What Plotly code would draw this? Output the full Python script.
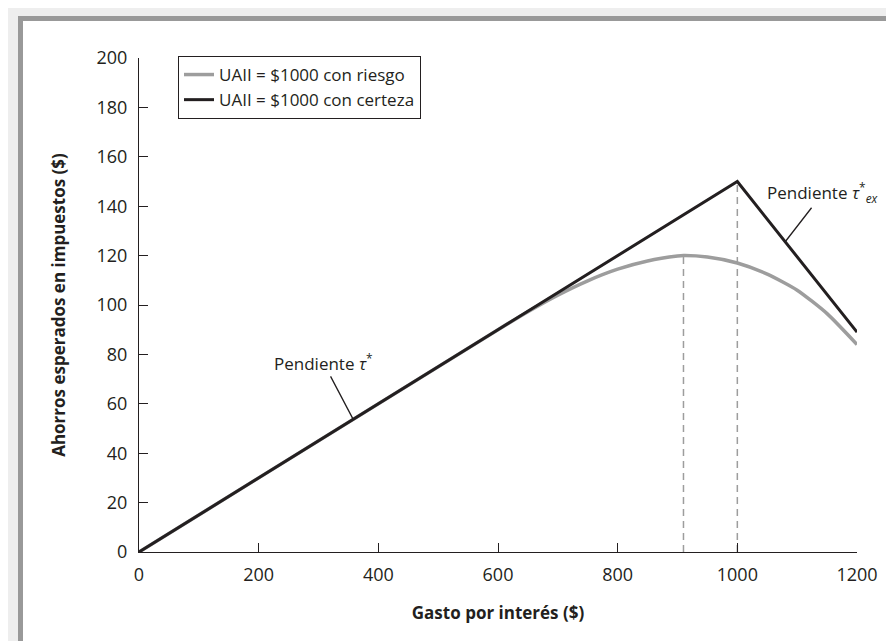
import plotly.graph_objects as go

# data
gasto_cierto = [0, 1000, 1200]
ahorro_cierto = [0, 150, 89]

gasto_riesgo = [0, 600, 650, 700, 750, 800, 850, 900, 910, 950, 1000, 1050, 1100, 1150, 1200]
ahorro_riesgo = [0, 90, 97.3, 104, 109.8, 114.5, 117.8, 119.8, 120, 119.4, 117, 112.5, 106, 96.5, 84]

optimo_riesgo = 910
optimo_cierto = 1000

x_ticks = [0, 200, 400, 600, 800, 1000, 1200]
y_ticks = list(range(0, 201, 20))

FONT = "Open Sans, Noto Sans, sans-serif"
BLACK = "#231f20"
GRAY = "#9d9d9d"

# plot area in pixels
L, R, T, B = 131, 849, 50, 544


def px(x):
    return (x - L) / (R - L)


def py(y):
    return (B - y) / (B - T)


fig = go.Figure()

fig.add_trace(
    go.Scatter(
        x=[optimo_riesgo, optimo_riesgo],
        y=[0, max(ahorro_riesgo)],
        mode="lines",
        line=dict(color=GRAY, width=1.5, dash="7px,5px"),
        showlegend=False,
        hoverinfo="skip",
    )
)
fig.add_trace(
    go.Scatter(
        x=[optimo_cierto, optimo_cierto],
        y=[0, max(ahorro_cierto)],
        mode="lines",
        line=dict(color=GRAY, width=1.5, dash="7px,5px"),
        showlegend=False,
        hoverinfo="skip",
    )
)
fig.add_trace(
    go.Scatter(
        x=gasto_riesgo,
        y=ahorro_riesgo,
        mode="lines",
        name="UAII = $1000 con riesgo",
        line=dict(color=GRAY, width=3.5, shape="spline", smoothing=0.6),
        cliponaxis=False,
    )
)
fig.add_trace(
    go.Scatter(
        x=gasto_cierto,
        y=ahorro_cierto,
        mode="lines",
        name="UAII = $1000 con certeza",
        line=dict(color=BLACK, width=3),
        cliponaxis=False,
    )
)

fig.add_annotation(
    x=358, y=0.15 * 358,
    text="Pendiente <i>τ</i><sup>*</sup>",
    showarrow=True, arrowhead=0, arrowwidth=1.3, arrowcolor=BLACK,
    ax=-30, ay=-57,
    font=dict(family=FONT, size=17, color=BLACK),
)
fig.add_annotation(
    x=1080, y=150 - 0.305 * 80,
    text="Pendiente <i>τ</i><sup>*</sup><sub><i>ex</i></sub>",
    showarrow=True, arrowhead=0, arrowwidth=1.3, arrowcolor=BLACK,
    ax=38, ay=-49,
    font=dict(family=FONT, size=17, color=BLACK),
)

# page frame
fig.add_shape(type="rect", xref="paper", yref="paper",
              x0=px(10), x1=px(900), y0=py(8), y1=py(650),
              fillcolor="#999999", line_width=0, layer="below")
fig.add_shape(type="rect", xref="paper", yref="paper",
              x0=px(15), x1=px(900), y0=py(13), y1=py(650),
              fillcolor="white", line_width=0, layer="below")

fig.update_layout(
    width=894,
    height=641,
    margin=dict(l=L, r=894 - R, t=T, b=641 - B),
    paper_bgcolor="#eeeeee",
    plot_bgcolor="rgba(0,0,0,0)",
    font=dict(family=FONT, size=18, color=BLACK),
    legend=dict(
        x=px(170), y=py(48), xanchor="left", yanchor="top",
        bordercolor=BLACK, borderwidth=1, bgcolor="white",
        font=dict(size=17), tracegroupgap=0,
    ),
    xaxis=dict(
        range=[0, 1200], tickvals=x_ticks, ticks="inside", ticklen=9,
        tickcolor=BLACK, showline=True, linecolor=BLACK, linewidth=1.2,
        showgrid=False, zeroline=False, ticklabelstandoff=6,
        tickfont=dict(size=18),
        title=dict(text="<b>Gasto por interés ($)</b>", font=dict(size=17), standoff=22),
    ),
    yaxis=dict(
        range=[0, 200], tickvals=y_ticks, ticks="inside", ticklen=9,
        tickcolor=BLACK, showline=True, linecolor=BLACK, linewidth=1.2,
        showgrid=False, zeroline=False, ticklabelstandoff=7,
        tickfont=dict(size=18),
        title=dict(text="<b>Ahorros esperados en impuestos ($)</b>", font=dict(size=17), standoff=26),
    ),
)

fig.write_html("out.html")
